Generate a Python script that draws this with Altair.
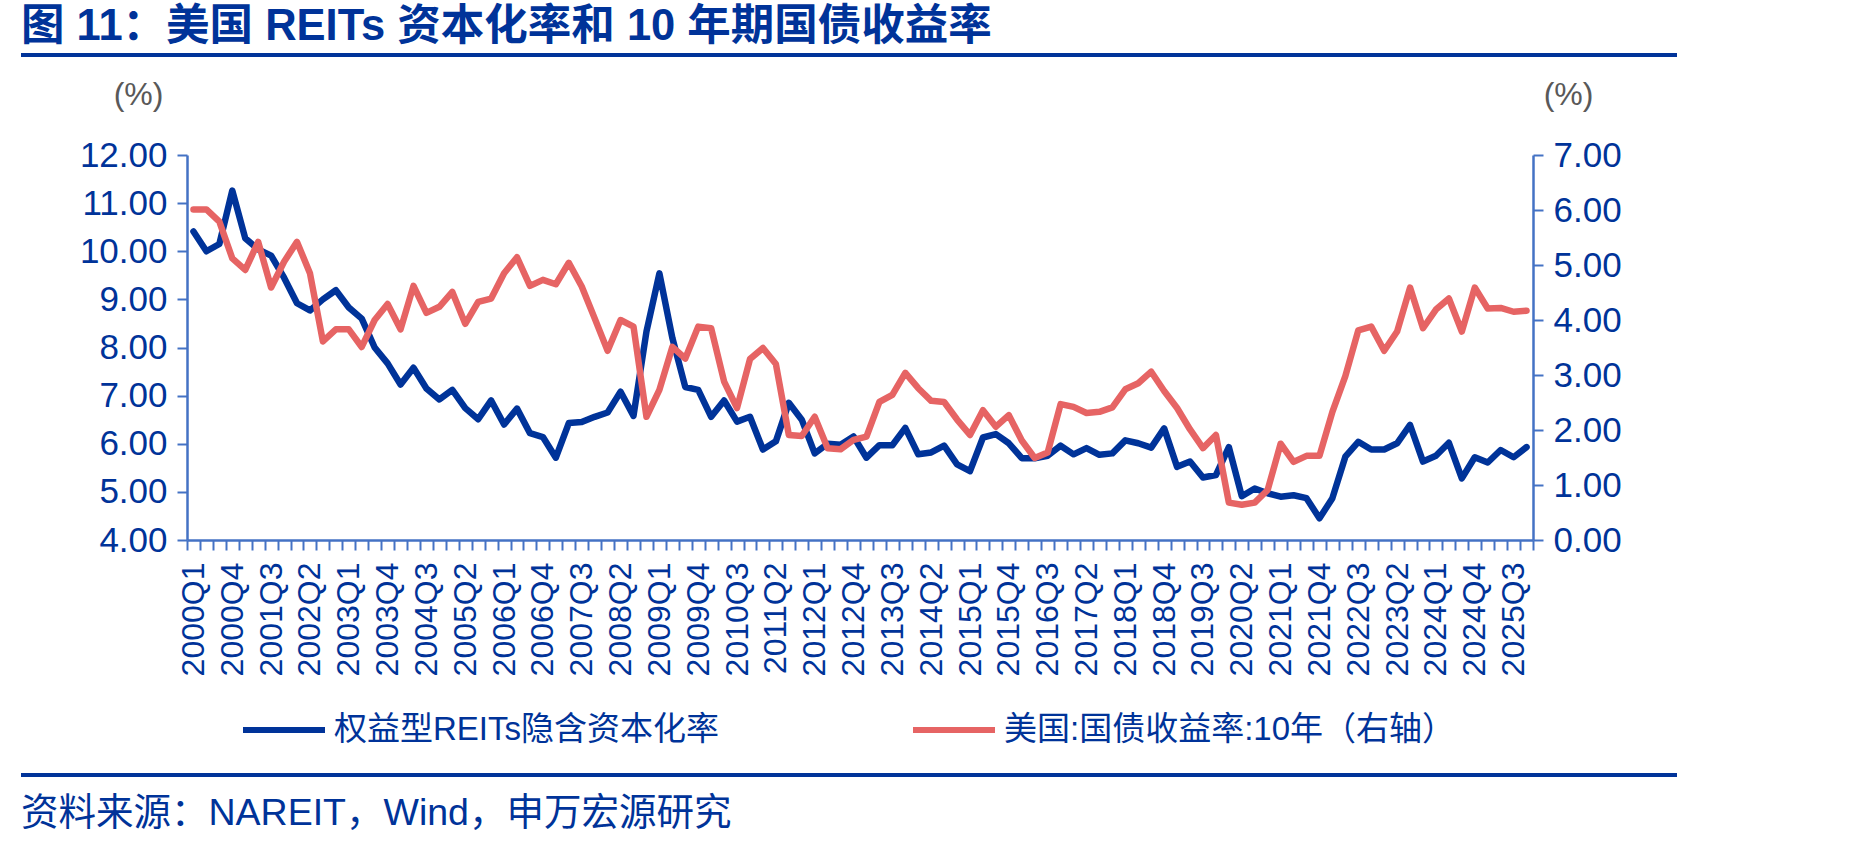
import altair as alt
import pandas as pd

# ---------------- data ----------------
quarters = [f"{y}Q{q}" for y in range(2000, 2026) for q in range(1, 5)]

cap_rate = [
    10.41, 10.00, 10.15, 11.26, 10.27, 10.04, 9.91, 9.45, 8.92, 8.77,
    9.00, 9.19, 8.83, 8.60, 8.00, 7.67, 7.23, 7.58, 7.15, 6.92,
    7.12, 6.74, 6.51, 6.90, 6.40, 6.73, 6.22, 6.14, 5.71, 6.43,
    6.45, 6.56, 6.65, 7.08, 6.58, 8.33, 9.54, 8.20, 7.18, 7.12,
    6.56, 6.90, 6.46, 6.56, 5.88, 6.05, 6.85, 6.50, 5.80, 6.00,
    5.98, 6.15, 5.71, 5.97, 5.97, 6.33, 5.78, 5.82, 5.96, 5.57,
    5.43, 6.13, 6.20, 6.01, 5.70, 5.70, 5.75, 5.96, 5.78, 5.91,
    5.77, 5.80, 6.07, 6.01, 5.92, 6.32, 5.52, 5.63, 5.30, 5.35,
    5.93, 4.91, 5.07, 4.97, 4.90, 4.93, 4.87, 4.45, 4.87, 5.73,
    6.04, 5.88, 5.88, 6.01, 6.39, 5.63, 5.75, 6.02, 5.28, 5.72,
    5.61, 5.87, 5.72, 5.93,
]

ust10y = [
    6.01, 6.01, 5.79, 5.12, 4.91, 5.42, 4.59, 5.06, 5.42, 4.85,
    3.61, 3.83, 3.83, 3.51, 4.00, 4.29, 3.83, 4.62, 4.13, 4.24,
    4.51, 3.93, 4.33, 4.39, 4.85, 5.14, 4.62, 4.73, 4.65, 5.04,
    4.61, 4.03, 3.44, 4.00, 3.88, 2.24, 2.73, 3.51, 3.30, 3.88,
    3.85, 2.88, 2.40, 3.29, 3.49, 3.20, 1.91, 1.89, 2.24, 1.67,
    1.65, 1.82, 1.88, 2.51, 2.64, 3.04, 2.76, 2.53, 2.51, 2.19,
    1.91, 2.36, 2.06, 2.27, 1.81, 1.49, 1.59, 2.47, 2.42, 2.31,
    2.33, 2.41, 2.74, 2.85, 3.06, 2.71, 2.40, 2.01, 1.67, 1.91,
    0.68, 0.64, 0.68, 0.91, 1.75, 1.42, 1.53, 1.53, 2.33, 2.98,
    3.81, 3.88, 3.44, 3.79, 4.59, 3.85, 4.19, 4.39, 3.79, 4.59,
    4.21, 4.22, 4.15, 4.17,
]

series_names = ["权益型REITs隐含资本化率", "美国:国债收益率:10年（右轴）"]
left_ticks = [4, 5, 6, 7, 8, 9, 10, 11, 12]
right_ticks = [0, 1, 2, 3, 4, 5, 6, 7]
title_text = "图 11：美国 REITs 资本化率和 10 年期国债收益率"
source_text = "资料来源：NAREIT，Wind，申万宏源研究"
unit_text = "(%)"

# ---------------- style ----------------
NAVY = "#003399"
RED = "#E66464"
AXIS = "#4472C4"
GRAY = "#595959"
FONT = "Liberation Sans, Arial, Noto Sans CJK SC, sans-serif"

W, H = 1346, 385
PAD = {"left": 187, "top": 155, "right": 1849 - 187 - W, "bottom": 849 - 155 - H}

df_a = pd.DataFrame({"quarter": quarters, "value": cap_rate, "series": series_names[0]})
df_b = pd.DataFrame({"quarter": quarters, "value": ust10y, "series": series_names[1]})

label_expr = (
    "((toNumber(substring(datum.value,0,4))-2000)*4 + "
    "toNumber(substring(datum.value,5,6)) - 1) % 3 == 0 ? datum.value : ''"
)

x_enc = alt.X(
    "quarter:O",
    sort=quarters,
    scale=alt.Scale(type="band", paddingInner=0, paddingOuter=0),
    bandPosition=0.5,
    axis=alt.Axis(
        title=None,
        labelExpr=label_expr,
        labelAngle=270,
        labelAlign="right",
        labelBaseline="middle",
        labelPadding=12,
        labelFontSize=32,
        labelFont=FONT,
        labelColor=NAVY,
        labelOverlap=False,
        tickBand="extent",
        tickColor=AXIS,
        tickWidth=2,
        tickSize=10,
        domainColor=AXIS,
        domainWidth=2.5,
        grid=False,
    ),
)

color_enc = alt.Color(
    "series:N",
    scale=alt.Scale(domain=series_names, range=[NAVY, RED]),
    legend=alt.Legend(
        orient="none",
        legendX=53,
        legendY=531,
        direction="horizontal",
        title=None,
        symbolType="stroke",
        symbolStrokeWidth=6,
        symbolSize=6724,
        labelFontSize=33,
        labelFont=FONT,
        labelColor=NAVY,
        labelLimit=1000,
        labelOffset=6,
        columnPadding=181,
        padding=0,
    ),
)


def y_axis(orient, ticks, title_x):
    return alt.Axis(
        orient=orient,
        values=ticks,
        format=".2f",
        title=unit_text,
        titleAngle=0,
        titleX=title_x,
        titleY=-61,
        titleAlign="center",
        titleBaseline="middle",
        titleColor=GRAY,
        titleFontWeight="normal",
        titleFontSize=32,
        titleFont=FONT,
        labelFontSize=35,
        labelFont=FONT,
        labelColor=NAVY,
        labelPadding=10,
        labelFlush=False,
        domainColor=AXIS,
        domainWidth=2.5,
        tickColor=AXIS,
        tickWidth=2,
        tickSize=10,
        grid=False,
    )


left_line = alt.Chart(df_a).mark_line(strokeWidth=6.5, strokeCap="round", strokeJoin="round").encode(
    x=x_enc,
    y=alt.Y(
        "value:Q",
        scale=alt.Scale(domain=[4, 12], nice=False, zero=False),
        axis=y_axis("left", left_ticks, -49),
    ),
    color=color_enc,
)

right_line = alt.Chart(df_b).mark_line(strokeWidth=6.5, strokeCap="round", strokeJoin="round").encode(
    x=x_enc,
    y=alt.Y(
        "value:Q",
        scale=alt.Scale(domain=[0, 7], nice=False, zero=False),
        axis=y_axis("right", right_ticks, 35),
    ),
    color=color_enc,
)

lines = alt.layer(left_line, right_line).resolve_scale(y="independent", color="shared")

title_mark = alt.Chart(pd.DataFrame({"t": [title_text]})).mark_text(
    align="left", baseline="middle", font=FONT, fontSize=43.5, fontWeight="bold", color=NAVY
).encode(text="t:N", x=alt.value(-166), y=alt.value(-128))

source_mark = alt.Chart(pd.DataFrame({"t": [source_text]})).mark_text(
    align="left", baseline="middle", font=FONT, fontSize=37.5, color=NAVY
).encode(text="t:N", x=alt.value(-166), y=alt.value(659))

rule_df = pd.DataFrame({"k": [0]})
top_rule = alt.Chart(rule_df).mark_rule(color=NAVY, strokeWidth=4).encode(
    x=alt.value(-166), x2=alt.value(1490), y=alt.value(-100)
)
bottom_rule = alt.Chart(rule_df).mark_rule(color=NAVY, strokeWidth=4).encode(
    x=alt.value(-166), x2=alt.value(1490), y=alt.value(620)
)

chart = alt.layer(lines, top_rule, bottom_rule, title_mark, source_mark).resolve_scale(
    y="independent", color="shared"
).properties(
    width=W,
    height=H,
    padding=PAD,
    autosize=alt.AutoSizeParams(type="none"),
    background="white",
).configure_view(stroke=None)

chart.save("out.html", embed_options={"renderer": "svg", "actions": False})
